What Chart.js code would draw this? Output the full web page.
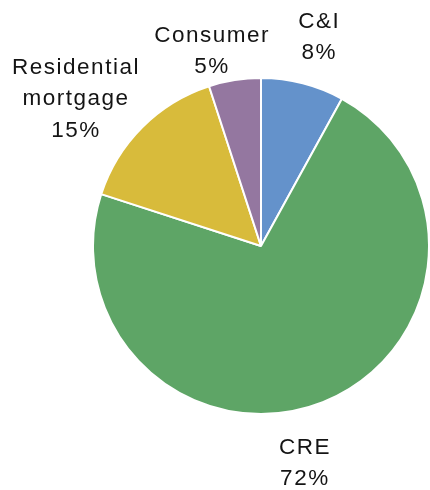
<!DOCTYPE html>
<html>
<head>
<meta charset="utf-8">
<script src="https://cdn.jsdelivr.net/npm/chart.js@4"></script>
<style>
  body { margin: 0; background: #fff; }
  #pie_chart { display: block; }
</style>
</head>
<body>
<canvas id="pie_chart" width="430" height="490"></canvas>
<script>
var categories = ["C&I", "CRE", "Residential\nmortgage", "Consumer"];
var shares = [8, 72, 15, 5];
var sliceColors = ["#6492cb", "#5ea566", "#d8bb3b", "#9477a0"];

// nudges for the outside labels (Excel-style best fit)
var labelNudge = [[8, -17], [-30, 33], [-46, -7], [-19, 1]];

var outsideLabels = {
    id: 'outsideLabels',
    afterDatasetsDraw: function (chart) {
        var ctx = chart.ctx;
        var arcs = chart.getDatasetMeta(0).data;
        ctx.save();
        ctx.font = '22.5px "Liberation Sans", Arial, sans-serif';
        ctx.letterSpacing = '1.5px';
        ctx.fillStyle = '#141414';
        ctx.textAlign = 'center';
        ctx.textBaseline = 'middle';
        arcs.forEach(function (arc, i) {
            var mid = (arc.startAngle + arc.endAngle) / 2;
            var r = arc.outerRadius + 30;
            var x = arc.x + Math.cos(mid) * r + labelNudge[i][0];
            var y = arc.y + Math.sin(mid) * r + labelNudge[i][1];
            var lines = categories[i].split("\n");
            lines.push(shares[i] + "%");
            var lh = 31.5;
            var top = y - (lines.length - 1) * lh / 2;
            lines.forEach(function (t, k) {
                ctx.fillText(t, x + 1, top + k * lh);
            });
        });
        ctx.restore();
    }
};

new Chart(document.getElementById("pie_chart").getContext("2d"), {
    type: 'pie',
    data: {
        labels: categories,
        datasets: [{
            data: shares,
            backgroundColor: sliceColors,
            borderColor: '#ffffff',
            borderWidth: 2
        }]
    },
    options: {
        responsive: false,
        animation: false,
        layout: { padding: { left: 92, right: 0, top: 77, bottom: 75 } },
        plugins: {
            legend: { display: false },
            tooltip: { enabled: false }
        }
    },
    plugins: [outsideLabels]
});
</script>
</body>
</html>
